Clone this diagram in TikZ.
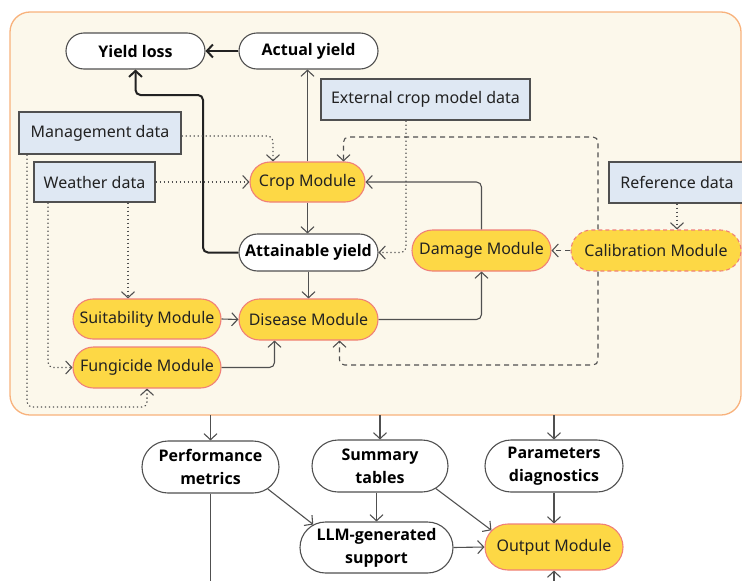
\documentclass[tikz,border=0pt]{standalone}
\usepackage{fontspec}
\setmainfont{Noto Sans}
\newfontfamily\pillfont{Open Sans}
\usetikzlibrary{arrows.meta,shapes.misc,calc}
\definecolor{cream}{HTML}{FCF8EB}
\definecolor{orangeb}{HTML}{F8B27C}
\definecolor{datab}{HTML}{DFE8F3}
\definecolor{modfill}{HTML}{FDD845}
\definecolor{modline}{HTML}{F08078}
\definecolor{ln}{HTML}{505050}
\definecolor{dk}{HTML}{222222}
\begin{document}
\begin{tikzpicture}[x=1pt,y=-1pt,
  font=\fontsize{16}{19}\selectfont,
  pill/.style={rounded rectangle, draw=ln, line width=1.1pt, fill=white, inner sep=0pt,
    minimum height=37pt, align=center, font=\pillfont\fontsize{16}{23}\selectfont\bfseries},
  module/.style={rounded rectangle, draw=modline, line width=1.1pt, fill=modfill, inner sep=0pt,
    minimum height=41pt, text=dk},
  databox/.style={rectangle, draw=ln, line width=1.1pt, fill=datab, inner sep=0pt,
    minimum height=41pt, text=dk},
  arr/.style={draw=ln, line width=1.1pt, -{Straight Barb[length=6pt,width=13pt]}, rounded corners=5pt},
  thickarr/.style={arr, line width=2pt, draw=dk},
  dotarr/.style={arr, dash pattern=on 1.3pt off 2.7pt},
  dasharr/.style={arr, dash pattern=on 5pt off 4pt},
  plain/.style={draw=ln, line width=1.1pt},
]
\useasboundingbox (0,0) rectangle (742,581);
\draw[fill=cream, draw=orangeb, line width=1.3pt, rounded corners=20pt] (10,12) rectangle (741,415);

% nodes
\node[pill, minimum width=139pt, minimum height=36pt] (yl) at (135.5,51) {Yield loss};
\node[pill, minimum width=139pt, minimum height=36pt] (ay) at (308.5,51) {Actual yield};
\node[databox, minimum width=209pt] (ext) at (425.5,99.5) {External crop model data};
\node[databox, minimum width=162pt, minimum height=42pt] (mgmt) at (100,133) {Management data};
\node[databox, minimum width=121pt, minimum height=40pt] (wea) at (94.5,182) {Weather data};
\node[databox, minimum width=136pt] (ref) at (677,182.5) {Reference data};
\node[module, minimum width=115pt, minimum height=40pt] (crop) at (307.5,182) {Crop Module};
\node[pill, minimum width=139pt] (att) at (308.5,252.5) {Attainable yield};
\node[module, minimum width=139pt] (dam) at (481.5,250.5) {Damage Module};
\node[module, minimum width=170pt, dash pattern=on 4pt off 3pt] (cal) at (656,250.5) {Calibration Module};
\node[module, minimum width=148pt, minimum height=40pt] (suit) at (147,319) {Suitability Module};
\node[module, minimum width=139pt] (dis) at (308.5,319.5) {Disease Module};
\node[module, minimum width=148pt] (fung) at (147,367.5) {Fungicide Module};
\node[pill, minimum width=137pt, minimum height=52pt] (perf) at (210.5,467) {Performance\\metrics};
\node[pill, minimum width=136pt, minimum height=52pt] (summ) at (380,466) {Summary\\tables};
\node[pill, minimum width=138pt, minimum height=52pt] (par) at (554,466) {Parameters\\diagnostics};
\node[pill, minimum width=153pt, minimum height=51pt] (llm) at (376.5,547.5) {LLM-generated\\support};
\node[module, minimum width=138pt, minimum height=46pt] (out) at (554,547) {Output Module};

% helper coordinates
\coordinate (k1) at (203,95);
\coordinate (c1) at (598,137);
\coordinate (c2) at (598,365);
\coordinate (e1) at (406,0);
\coordinate (m1) at (27,407);
\coordinate (cb) at (0,415);
\coordinate (bot) at (0,581);

% connectors upper panel
\draw[thickarr] (ay.west) -- (yl.east);
\draw[thickarr] (att.west) -| (k1) -| (yl.south);
\draw[arr] (crop.north) -- (crop.north |- ay.south);
\draw[arr] (crop.south) -- (crop.south |- att.north);
\draw[arr] (att.south) -- (dis.north);
\draw[arr] (suit.east) -- (dis.west);
\draw[arr] (fung.east) -| ([xshift=-34pt]dis.south);
\draw[arr] (dis.east) -| (dam.south);
\draw[arr] (dam.north) |- (crop.east);
\draw[dasharr] (cal.west) -- (dam.east);
\draw[dasharr] (cal.north -| c1) -- (c1) -| ([xshift=36pt]crop.north);
\draw[dasharr] (cal.south -| c2) -- (c2) -| ([xshift=31pt]dis.south);
\draw[dotarr] (ext.south -| e1) |- (att.east);
\draw[dotarr] ([yshift=-3pt]mgmt.east) -| ([xshift=-34.5pt]crop.north);
\draw[dotarr] (wea.east) -- (crop.west);
\draw[dotarr] ([xshift=33.5pt]wea.south) -- ([xshift=33.5pt]wea.south |- suit.north);
\draw[dotarr] ([xshift=-46.5pt]wea.south) |- (fung.west);
\draw[dotarr] (mgmt.south -| m1) -- (m1) -| (fung.south);
\draw[dotarr] (ref.south) -- (ref.south |- cal.north);

% lower panel
\draw[arr] (perf.north |- cb) -- (perf.north);
\draw[arr] (summ.north |- cb) -- (summ.north);
\draw[arr] (par.north |- cb) -- (par.north);
\draw[plain] (perf.south) -- (perf.south |- bot);
\draw[arr] (perf.-21) -- (llm.160);
\draw[arr] (llm.north |- summ.south) -- (llm.north);
\draw[arr] (summ.-22) -- (out.165);
\draw[arr] (par.south) -- (out.north);
\draw[arr] (llm.east) -- (out.west);
\draw[arr] (out.south |- bot) -- (out.south);
\end{tikzpicture}
\end{document}
